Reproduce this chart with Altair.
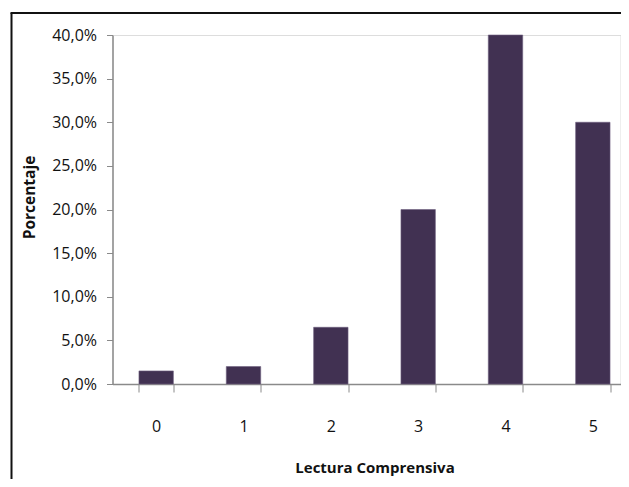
import altair as alt
import pandas as pd

categories = ["0", "1", "2", "3", "4", "5"]
values = [1.5, 2.0, 6.5, 20.0, 40.0, 30.0]
y_ticks = [0, 5, 10, 15, 20, 25, 30, 35, 40]

df = pd.DataFrame({"cat": categories, "pct": values})
frame_df = pd.DataFrame({"k": [0]})

FONT = "Open Sans"
AXIS_GREY = "#8a8a8a"
BAR = "#413152"

bars = alt.Chart(df).mark_bar(color=BAR, stroke="#6e6080", strokeWidth=0.6).encode(
    x=alt.X(
        "cat:O",
        sort=categories,
        scale=alt.Scale(range=[0, 524], paddingInner=0.606, paddingOuter=0.303),
        axis=alt.Axis(
            title="Lectura Comprensiva",
            titleFont=FONT,
            titleFontSize=15,
            titleFontWeight="bold",
            titleColor="#111111",
            titleX=262,
            titleY=83,
            titleAlign="center",
            titleBaseline="middle",
            labelFont=FONT,
            labelFontSize=16,
            labelColor="#111111",
            labelAngle=0,
            labelPadding=26,
            tickSize=8,
            tickBand="extent",
            tickColor=AXIS_GREY,
            domainColor=AXIS_GREY,
            domainWidth=1.5,
            grid=False,
        ),
    ),
    y=alt.Y(
        "pct:Q",
        scale=alt.Scale(domain=[0, 40], nice=False),
        axis=alt.Axis(
            title="Porcentaje",
            titleFont=FONT,
            titleFontSize=15.5,
            titleFontWeight="bold",
            titleColor="#111111",
            titleX=-83.5,
            titleY=162,
            titleAlign="center",
            titleBaseline="middle",
            values=y_ticks,
            labelExpr="replace(format(datum.value, '.1f'), '.', ',') + '%'",
            labelFont=FONT,
            labelFontSize=16,
            labelColor="#111111",
            labelPadding=10,
            tickSize=6,
            tickColor=AXIS_GREY,
            domainColor=AXIS_GREY,
            domainWidth=1.5,
            grid=False,
        ),
    ),
)

frame_left = alt.Chart(frame_df).mark_rule(color="#111111", strokeWidth=2).encode(
    x=alt.value(-101),
    y=alt.value(-22),
    y2=alt.value(470),
)
frame_top = alt.Chart(frame_df).mark_rule(color="#111111", strokeWidth=2).encode(
    x=alt.value(-102),
    x2=alt.value(540),
    y=alt.value(-22),
)

chart = alt.layer(frame_left, frame_top, bars).properties(
    width=508,
    height=349,
    autosize=alt.AutoSizeParams(type="none"),
    padding={"left": 104.5, "top": 27, "right": 0, "bottom": 95},
).configure_view(stroke=None).configure(background="white")

chart.save("out.html", embed_options={"renderer": "svg", "actions": False})
